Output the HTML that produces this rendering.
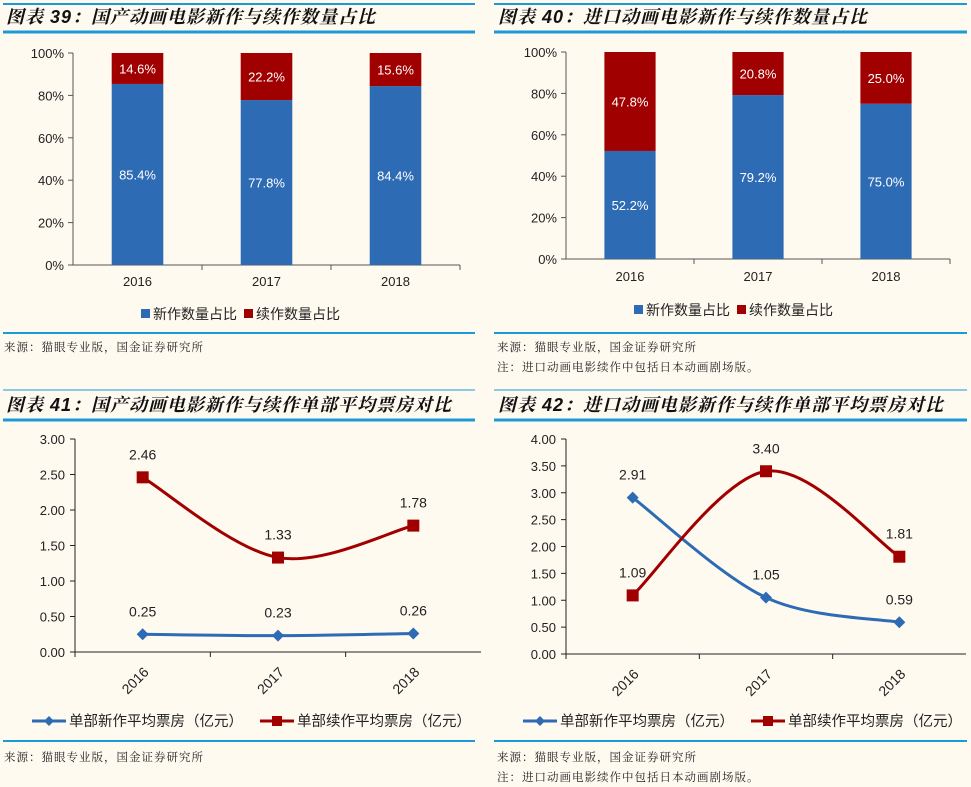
<!DOCTYPE html>
<html><head><meta charset="utf-8">
<style>
body{margin:0;background:#fffaf0;}
svg{display:block;font-family:"Liberation Sans","Noto Sans CJK SC",sans-serif;}
.t{font-family:"Liberation Sans","Noto Serif CJK SC",sans-serif;font-style:italic;font-weight:bold;font-size:18px;letter-spacing:1px;fill:#111;}
.s{font-family:"Noto Serif CJK SC","WenQuanYi Zen Hei",serif;font-size:11.5px;letter-spacing:1px;fill:#222;}
.ax{font-size:13px;fill:#222;}
</style></head><body>
<svg id="c" width="971" height="787" viewBox="0 0 971 787">
<rect width="971" height="787" fill="#fffaf0"/>
<g stroke="#1a9ad6">
<line x1="3" x2="475" y1="4" y2="4" stroke-width="2"/><line x1="3" x2="475" y1="32" y2="32" stroke-width="3"/>
<line x1="494" x2="967" y1="4" y2="4" stroke-width="2"/><line x1="494" x2="967" y1="32" y2="32" stroke-width="3"/>
<line x1="3" x2="475" y1="333" y2="333" stroke-width="2"/><line x1="494" x2="967" y1="333" y2="333" stroke-width="2"/>
<line x1="3" x2="475" y1="390" y2="390" stroke-width="1"/><line x1="3" x2="475" y1="420" y2="420" stroke-width="3"/>
<line x1="494" x2="967" y1="390" y2="390" stroke-width="1"/><line x1="494" x2="967" y1="420" y2="420" stroke-width="3"/>
<line x1="3" x2="475" y1="741" y2="741" stroke-width="2"/><line x1="494" x2="967" y1="741" y2="741" stroke-width="2"/>
</g>
<text class="t" x="6" y="23">图表 39：国产动画电影新作与续作数量占比</text>
<text class="t" x="498" y="23">图表 40：进口动画电影新作与续作数量占比</text>
<text class="t" x="6" y="411">图表 41：国产动画电影新作与续作单部平均票房对比</text>
<text class="t" x="498" y="411">图表 42：进口动画电影新作与续作单部平均票房对比</text>
<text class="s" x="4" y="351">来源：猫眼专业版，国金证券研究所</text>
<text class="s" x="497" y="351">来源：猫眼专业版，国金证券研究所</text>
<text class="s" x="497" y="371">注：进口动画电影续作中包括日本动画剧场版。</text>
<text class="s" x="4" y="761">来源：猫眼专业版，国金证券研究所</text>
<text class="s" x="497" y="761">来源：猫眼专业版，国金证券研究所</text>
<text class="s" x="497" y="781">注：进口动画电影续作中包括日本动画剧场版。</text>
</svg>
<script>
const years=["2016","2017","2018"];
const c39New=[85.4,77.8,84.4];
const c39Seq=[14.6,22.2,15.6];
const c40New=[52.2,79.2,75.0];
const c40Seq=[47.8,20.8,25.0];
const pctTicks=["0%","20%","40%","60%","80%","100%"];
const c41New=[0.25,0.23,0.26];
const c41Seq=[2.46,1.33,1.78];
const c41Ticks=["0.00","0.50","1.00","1.50","2.00","2.50","3.00"];
const c42New=[2.91,1.05,0.59];
const c42Seq=[1.09,3.40,1.81];
const c42Ticks=["0.00","0.50","1.00","1.50","2.00","2.50","3.00","3.50","4.00"];
const BLUE="#2e6bb5",RED="#a00000";
const svg=document.getElementById('c');
const NS="http://www.w3.org/2000/svg";
function mk(tag,at,parent){const e=document.createElementNS(NS,tag);for(const k in at)e.setAttribute(k,at[k]);(parent||svg).appendChild(e);return e;}
function txt(x,y,s,at,parent){const e=mk('text',Object.assign({x:x,y:y},at||{}),parent);e.textContent=s;return e;}

function barChart(name,ax0,ax1,y0,y1,newV,seqV,legX,legY,catY){
  const g=mk('g',{});
  
  
  const ys=v=>y0-(v/100)*(y0-y1);
  const bw=(ax1-ax0)/years.length;
  pctTicks.forEach((t,i)=>{const v=i*20;const y=ys(v);
    mk('line',{x1:ax0-5,x2:ax0,y1:y,y2:y,stroke:"#555"},g);
    const l=txt(ax0-9,y+5,t,{'text-anchor':'end',class:'ax'},g);
    
    });
  mk('line',{x1:ax0,x2:ax0,y1:y1,y2:y0,stroke:"#555"},g);
  mk('line',{x1:ax0,x2:ax1,y1:y0,y2:y0,stroke:"#555"},g);
  years.forEach((yr,i)=>{const cx=ax0+bw*(i+0.5);const w=bw*0.4;
    const b1=mk('rect',{x:cx-w/2,y:ys(newV[i]),width:w,height:y0-ys(newV[i]),fill:BLUE},g);
    
    
    const b2=mk('rect',{x:cx-w/2,y:ys(newV[i]+seqV[i]),width:w,height:ys(newV[i])-ys(newV[i]+seqV[i]),fill:RED},g);
    
    
    txt(cx,(ys(newV[i])+y0)/2+5,newV[i].toFixed(1)+"%",{'text-anchor':'middle',fill:'#fff','font-size':'13px'},g);
    txt(cx,(ys(newV[i])+ys(newV[i]+seqV[i]))/2+5,seqV[i].toFixed(1)+"%",{'text-anchor':'middle',fill:'#fff','font-size':'13px'},g);
    const cl=txt(cx,catY,yr,{'text-anchor':'middle',class:'ax'},g);
    
    
    mk('line',{x1:ax0+bw*(i+1),x2:ax0+bw*(i+1),y1:y0,y2:y0+5,stroke:"#555"},g);
  });
  const lg=mk('g',{},g);
  
  
  mk('rect',{x:legX,y:legY-10,width:9,height:9,fill:BLUE},lg);
  txt(legX+12,legY,"新作数量占比",{'font-size':'14px',fill:'#222'},lg);
  mk('rect',{x:legX+103,y:legY-10,width:9,height:9,fill:RED},lg);
  txt(legX+115,legY,"续作数量占比",{'font-size':'14px',fill:'#222'},lg);
}
function smooth(p){let d="M"+p[0][0]+","+p[0][1];
  for(let i=0;i<p.length-1;i++){const p0=p[i-1]||p[i],p1=p[i],p2=p[i+1],p3=p[i+2]||p2;
    d+=" C"+(p1[0]+(p2[0]-p0[0])/6)+","+(p1[1]+(p2[1]-p0[1])/6)+" "+(p2[0]-(p3[0]-p1[0])/6)+","+(p2[1]-(p3[1]-p1[1])/6)+" "+p2[0]+","+p2[1];}
  return d;}
function lineChart(name,ax0,ax1,y0,y1,maxV,ticks,newV,seqV,newAbove,seqAbove,legX,legY){
  const g=mk('g',{});
  
  
  const ys=v=>y0-(v/maxV)*(y0-y1);
  const bw=(ax1-ax0)/years.length;
  ticks.forEach((t,i)=>{const y=ys(parseFloat(t));
    mk('line',{x1:ax0-5,x2:ax0,y1:y,y2:y,stroke:"#222"},g);
    const l=txt(ax0-10,y+5,t,{'text-anchor':'end',class:'ax'},g);
    
    });
  mk('line',{x1:ax0,x2:ax0,y1:y1,y2:y0,stroke:"#222"},g);
  mk('line',{x1:ax0,x2:ax1,y1:y0,y2:y0,stroke:"#222"},g);
  years.forEach((yr,i)=>{const cx=ax0+bw*(i+0.5);
    mk('line',{x1:ax0+bw*i,x2:ax0+bw*i,y1:y0,y2:y0+5,stroke:"#222"},g);
    const cl=txt(cx-4,y0+32,yr,{'text-anchor':'middle','font-size':'14px',fill:'#222',transform:'rotate(-45 '+(cx-4)+' '+(y0+32)+')'},g);
    
    });
  [[newV,BLUE,'new',newAbove],[seqV,RED,'sequel',seqAbove]].forEach(([vals,col,nm,ab])=>{
    const pts=vals.map((v,i)=>[ax0+bw*(i+0.5),ys(v)]);
    const p=mk('path',{d:smooth(pts),fill:'none',stroke:col,'stroke-width':3},g);
    
    
    pts.forEach((pt,i)=>{
      let m;
      if(nm==='new') m=mk('path',{d:`M${pt[0]},${pt[1]-6}L${pt[0]+6},${pt[1]}L${pt[0]},${pt[1]+6}L${pt[0]-6},${pt[1]}Z`,fill:col},g);
      else m=mk('rect',{x:pt[0]-6,y:pt[1]-6,width:12,height:12,fill:col},g);
      
      
      const dy=ab[i]?-18:28;
      txt(pt[0],pt[1]+dy,vals[i].toFixed(2),{'text-anchor':'middle','font-size':'14px',fill:'#222'},g);
    });
  });
  const lg=mk('g',{},g);
  
  
  mk('line',{x1:legX,x2:legX+34,y1:legY-5,y2:legY-5,stroke:BLUE,'stroke-width':3},lg);
  mk('path',{d:`M${legX+17},${legY-10}L${legX+22},${legY-5}L${legX+17},${legY}L${legX+12},${legY-5}Z`,fill:BLUE},lg);
  txt(legX+37,legY,"单部新作平均票房（亿元）",{'font-size':'14.5px',fill:'#222'},lg);
  mk('line',{x1:legX+228,x2:legX+262,y1:legY-5,y2:legY-5,stroke:RED,'stroke-width':3},lg);
  mk('rect',{x:legX+240,y:legY-10,width:10,height:10,fill:RED},lg);
  txt(legX+265,legY,"单部续作平均票房（亿元）",{'font-size':'14.5px',fill:'#222'},lg);
}
barChart('chart-39',73,460,265,53,c39New,c39Seq,141,319,286);
barChart('chart-40',566,950,259,52,c40New,c40Seq,634,315,281);
lineChart('chart-41',75,481,652,439,3,c41Ticks,c41New,c41Seq,[1,1,1],[1,1,1],32,726);
lineChart('chart-42',566,966,654,439,4,c42Ticks,c42New,c42Seq,[1,1,1],[1,1,1],523,726);
</script>
</body></html>
